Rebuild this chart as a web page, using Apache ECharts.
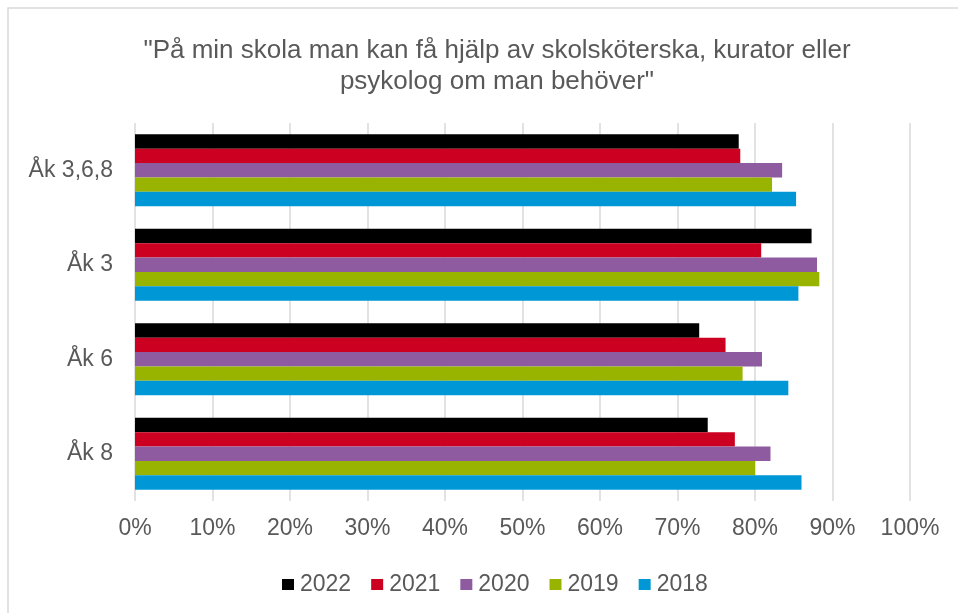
<!DOCTYPE html>
<html>
<head>
<meta charset="utf-8">
<script src="https://cdn.jsdelivr.net/npm/echarts@6/dist/echarts.min.js"></script>
<style>
  html, body { margin: 0; padding: 0; background: #fff; }
  #chart { width: 958px; height: 613px; }
</style>
</head>
<body>
<div id="chart"></div>
<script>
// categories top to bottom
const categories = ['Åk 3,6,8', 'Åk 3', 'Åk 6', 'Åk 8']
const years = ['2022', '2021', '2020', '2019', '2018']
const colors = ['#000000', '#cc0020', '#8e5ba0', '#99b400', '#0097d7']

// andel (%) per år, i samma ordning som categories
const v2022 = [77.9, 87.3, 72.8, 73.9]
const v2021 = [78.1, 80.8, 76.2, 77.4]
const v2020 = [83.5, 88.0, 80.9, 82.0]
const v2019 = [82.2, 88.3, 78.4, 80.0]
const v2018 = [85.3, 85.6, 84.3, 86.0]
const values = [v2022, v2021, v2020, v2019, v2018]

const textColor = '#595959'
const font = 'Liberation Sans, Arial, sans-serif'

const ec = echarts.init(document.getElementById('chart'))
ec.setOption({
    animation: false,
    title: {
        text: '"På min skola man kan få hjälp av skolsköterska, kurator eller\npsykolog om man behöver"',
        left: 492,
        top: 30,
        textAlign: 'center',
        textStyle: { color: textColor, fontFamily: font, fontSize: 26, fontWeight: 'normal', lineHeight: 31 }
    },
    graphic: [{
        type: 'rect',
        shape: { x: 8, y: 8, width: 1000, height: 700 },
        style: { fill: 'none', stroke: '#d9d9d9', lineWidth: 1.5 },
        silent: true
    }],
    legend: {
        data: years,
        left: 277,
        top: 568,
        icon: 'rect',
        itemWidth: 12,
        itemHeight: 11,
        itemGap: 20,
        textStyle: { color: textColor, fontFamily: font, fontSize: 23, padding: [0, 0, 0, 1] }
    },
    grid: { left: 135, right: 48, top: 123, bottom: 112, containLabel: false },
    xAxis: {
        type: 'value',
        min: 0,
        max: 100,
        interval: 10,
        axisLine: { show: false },
        axisTick: { show: false },
        axisLabel: { color: textColor, fontFamily: font, fontSize: 23, margin: 16, formatter: '{value}%' },
        splitLine: { show: true, lineStyle: { color: '#d9d9d9', width: 1.5 } }
    },
    yAxis: {
        type: 'category',
        data: categories,
        inverse: true,
        axisLine: { show: false },
        axisTick: { show: false },
        axisLabel: { color: textColor, fontFamily: font, fontSize: 23, margin: 22 }
    },
    series: years.map((y, i) => ({
        name: y,
        type: 'bar',
        data: values[i],
        barGap: '0%',
        barCategoryGap: '24%',
        itemStyle: { color: colors[i] }
    }))
})
</script>
</body>
</html>
